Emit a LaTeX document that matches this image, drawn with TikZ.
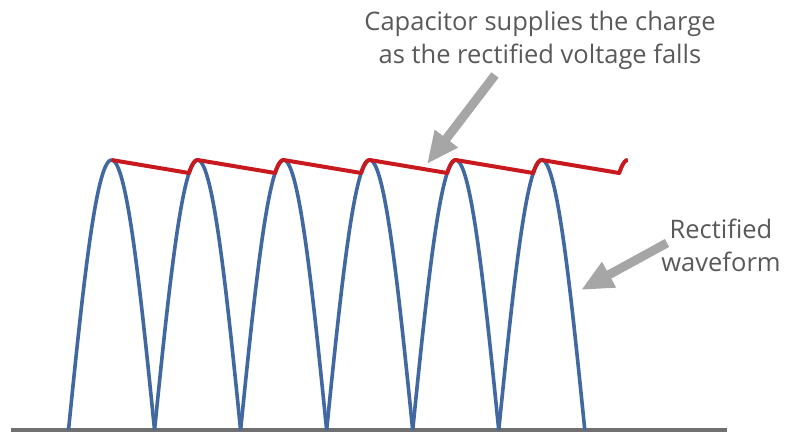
\documentclass[tikz,border=0pt]{standalone}
\usepackage{fontspec}
\usepackage{tikz}
\usetikzlibrary{arrows.meta}
\newfontfamily\notefont{Open Sans}
\definecolor{wavecol}{HTML}{4168A0}
\definecolor{chargecol}{HTML}{C8191E}
\definecolor{pointcol}{HTML}{A6A6A6}
\definecolor{notecol}{HTML}{595959}
\definecolor{axiscol}{HTML}{707070}

\begin{document}
\begin{tikzpicture}[x=1pt, y=-1pt,
    wave/.style={draw=wavecol, line width=3.6pt},
    charge/.style={draw=chargecol, line width=4pt, line join=round},
    pointer/.style={draw=pointcol, line width=9pt,
        -{Triangle[length=32pt, width=27pt]}},
    note/.style={text=notecol, font=\notefont\fontsize{25.5}{33}\selectfont,
        align=center, inner sep=0pt}]
\useasboundingbox (0,0) rectangle (796,441);

% ground line
\draw[axiscol, line width=4pt] (11,430) -- (727,430);

% rectified humps
\foreach \k in {0,...,5}
    \draw[wave] plot[domain=0:86.05, samples=80]
        ({68.5+86.05*\k+\x}, {430-270*sin(\x*180/86.05)});

% capacitor voltage
\draw[charge] (111.5,160)
    \foreach \k in {1,...,6} {
        -- ({111.5+86.05*\k-8.5},173)
        -- plot[domain=-8.5:0, samples=10]
            ({111.5+86.05*\k+\x}, {430-270*cos(\x*180/86.05)})
    };

% labels
\node[note, anchor=base] (capnote) at (540,64)
    {Capacitor supplies the charge\\as the rectified voltage falls};
\node[note, anchor=base] (wavenote) at (721,272) {Rectified\\waveform};

\coordinate (captail) at (495,75);
\coordinate (captip) at (427,164);
\coordinate (wavetail) at (667,243);
\coordinate (wavetip) at (581,290);
\draw[pointer] (captail) -- (captip);
\draw[pointer] (wavetail) -- (wavetip);
\end{tikzpicture}
\end{document}
